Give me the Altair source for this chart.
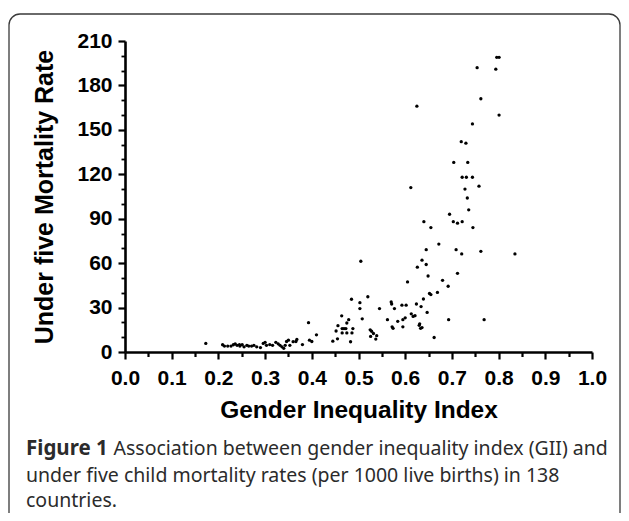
import altair as alt
import pandas as pd

# Gender Inequality Index values (x) and Under-five mortality rates (y)
gii = [
    0.173, 0.209, 0.213, 0.220, 0.227, 0.232, 0.236, 0.240, 0.245, 0.246, 0.251, 0.255,
    0.261, 0.265, 0.271, 0.276, 0.282, 0.290, 0.296, 0.300, 0.303, 0.310, 0.316, 0.323,
    0.328, 0.332, 0.336, 0.340, 0.343, 0.346, 0.350, 0.353, 0.360, 0.366, 0.368, 0.380,
    0.393, 0.395, 0.400, 0.410,
    0.445, 0.452, 0.455, 0.456, 0.464, 0.465, 0.469, 0.473, 0.465, 0.475, 0.479, 0.475,
    0.486, 0.483, 0.488, 0.485, 0.505, 0.503, 0.503, 0.508, 0.520, 0.525, 0.528, 0.532,
    0.526, 0.537, 0.539, 0.545, 0.562, 0.570, 0.571, 0.572, 0.574, 0.577, 0.584, 0.593,
    0.602, 0.595, 0.600, 0.595, 0.605, 0.613, 0.617, 0.621, 0.624, 0.626, 0.630, 0.633,
    0.631, 0.636, 0.634, 0.636, 0.645, 0.645, 0.639, 0.647, 0.649, 0.652, 0.655, 0.662,
    0.669, 0.672, 0.680, 0.692, 0.693, 0.709, 0.712, 0.721, 0.762, 0.769, 0.835,
    0.612, 0.640, 0.655, 0.695, 0.703, 0.712, 0.722, 0.728, 0.733, 0.745, 0.758, 0.736,
    0.796, 0.801, 0.754, 0.794, 0.762, 0.625, 0.801, 0.744, 0.720, 0.730, 0.704, 0.734,
    0.722, 0.731, 0.744,
]
u5mr = [
    5.8, 4.9, 4.0, 4.0, 4.0, 4.9, 5.5, 4.5, 5.0, 4.0, 4.9, 3.5,
    4.5, 4.0, 4.0, 4.5, 3.5, 3.0, 5.8, 6.5, 4.5, 5.0, 4.5, 6.5,
    5.5, 4.5, 3.5, 2.5, 4.5, 7.1, 8.0, 4.5, 7.0, 7.1, 8.5, 5.0,
    19.8, 8.0, 7.1, 11.6,
    7.3, 14.2, 8.9, 17.8, 24.4, 15.8, 15.8, 15.8, 12.9, 19.6, 21.8, 12.9,
    12.9, 6.9, 15.8, 35.6, 61.3, 33.3, 29.3, 22.4, 37.3, 15.0, 14.0, 12.5,
    10.5, 8.7, 11.0, 29.3, 21.8, 33.8, 32.4, 17.0, 16.0, 29.3, 20.7, 31.6,
    31.6, 21.8, 23.1, 17.0, 47.3, 25.8, 24.0, 24.5, 32.4, 57.3, 18.0, 16.0,
    19.0, 16.5, 30.7, 62.0, 59.1, 69.1, 35.8, 26.7, 51.3, 39.5, 38.8, 9.8,
    40.2, 72.9, 48.4, 44.4, 21.8, 69.1, 53.1, 66.2, 68.0, 21.8, 66.2,
    111.0, 88.0, 84.0, 93.0, 88.0, 87.0, 88.0, 110.0, 104.0, 84.0, 112.0, 96.0,
    199.0, 199.0, 192.0, 191.0, 171.0, 166.0, 160.0, 154.0, 142.0, 141.0, 128.0, 128.0,
    118.0, 118.0, 118.0,
]

x_major = [round(i * 0.1, 1) for i in range(11)]
x_minor = [round(0.05 + i * 0.1, 2) for i in range(10)]
y_major = [0, 30, 60, 90, 120, 150, 180, 210]
y_minor = [v for v in range(0, 211, 10) if v % 30 != 0]

x_title = "Gender Inequality Index"
y_title = "Under five Mortality Rate"
caption_bold = "Figure 1"
caption_lines = [
    "Association between gender inequality index (GII) and",
    "under five child mortality rates (per 1000 live births) in 138",
    "countries.",
]

df = pd.DataFrame({"gii": gii, "u5mr": u5mr})

FONT = "Liberation Sans"
W, H = 467, 311

xscale = alt.Scale(domain=[0, 1], nice=False, zero=False)
yscale = alt.Scale(domain=[0, 210], nice=False)

major_x = alt.Axis(
    values=x_major, format=".1f", orient="bottom", grid=False,
    domain=True, domainColor="black", domainWidth=2.6,
    ticks=True, tickColor="black", tickWidth=2.2, tickSize=7,
    labelFont=FONT, labelFontWeight="bold", labelFontSize=21, labelColor="black",
    labelPadding=8, labelFlush=False,
    title=x_title, titleFont=FONT, titleFontWeight="bold", titleFontSize=24.5,
    titleColor="black", titlePadding=10,
)
major_y = alt.Axis(
    values=y_major, orient="left", grid=False,
    domain=True, domainColor="black", domainWidth=2.6,
    ticks=True, tickColor="black", tickWidth=2.2, tickSize=7,
    labelFont=FONT, labelFontWeight="bold", labelFontSize=21, labelColor="black",
    labelPadding=6, labelFlush=False,
    title=y_title, titleFont=FONT, titleFontWeight="bold", titleFontSize=25,
    titleColor="black", titlePadding=19,
)
minor_x = alt.Axis(
    values=x_minor, orient="bottom", grid=False, domain=False, labels=False,
    ticks=True, tickColor="black", tickWidth=2.2, tickSize=4.5, title=None,
)
minor_y = alt.Axis(
    values=y_minor, orient="left", grid=False, domain=False, labels=False,
    ticks=True, tickColor="black", tickWidth=1.8, tickSize=4, title=None,
)

points = alt.Chart(df).mark_circle(size=11, color="black", opacity=1).encode(
    x=alt.X("gii:Q", scale=xscale, axis=major_x),
    y=alt.Y("u5mr:Q", scale=yscale, axis=major_y),
)
minor = alt.Chart(df).mark_circle(opacity=0).encode(
    x=alt.X("gii:Q", scale=xscale, axis=minor_x),
    y=alt.Y("u5mr:Q", scale=yscale, axis=minor_y),
)

border = alt.Chart(pd.DataFrame({"a": [0]})).mark_rect(
    fill=None, stroke="#3a3a3a", strokeWidth=1.3, cornerRadius=11
).encode(
    x=alt.value(-116), x2=alt.value(495), y=alt.value(-27), y2=alt.value(485)
)

cap_font = "Noto Sans"
cap_color = "#2b2b2b"
cap_bold = alt.Chart(pd.DataFrame({"t": [caption_bold]})).mark_text(
    align="left", baseline="alphabetic", font=cap_font, fontSize=20.5,
    fontWeight="bold", color=cap_color
).encode(text="t:N", x=alt.value(-99), y=alt.value(414))

cap_df = pd.DataFrame({
    "t": caption_lines,
    "px": [-11.5, -99, -99],
    "py": [414, 440.5, 466],
})
cap_rest = alt.Chart(cap_df).mark_text(
    align="left", baseline="alphabetic", font=cap_font, fontSize=19.5,
    color=cap_color
).encode(
    text="t:N",
    x=alt.X("px:Q", scale=None),
    y=alt.Y("py:Q", scale=None),
)

chart = alt.layer(points, minor, border, cap_bold, cap_rest).resolve_axis(
    x="independent", y="independent"
).properties(
    width=W, height=H,
    autosize=alt.AutoSizeParams(type="none"),
    padding={"left": 117, "top": 33, "right": 29, "bottom": 161},
).configure_view(stroke=None)

chart.save("out.html", embed_options={"renderer": "svg", "actions": False})
